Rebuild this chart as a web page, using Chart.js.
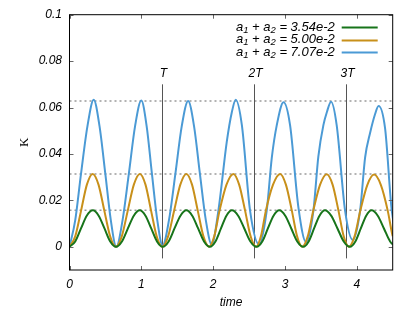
<!DOCTYPE html>
<html>
<head>
<meta charset="utf-8">
<script src="https://cdn.jsdelivr.net/npm/chart.js@4.4.0/dist/chart.umd.min.js"></script>
<style>
html, body { margin: 0; padding: 0; background: #fff; }
</style>
</head>
<body>
<canvas id="mycanvas" width="415" height="311"></canvas>
<script>
/* x ticks and y ticks */
var xTickValues = [0, 1, 2, 3, 4];
var xTickLabels = ['0', '1', '2', '3', '4'];
var yTickValues = [0, 0.02, 0.04, 0.06, 0.08, 0.1];
var yTickLabels = ['0', '0.02', '0.04', '0.06', '0.08', '0.1'];

/* series labels (a1 + a2 = ...) */
var seriesValues = ['3.54e-2', '5.00e-2', '7.07e-2'];
var seriesColors = ['#17741a', '#c8901a', '#4b9ad5'];

/* a1 + a2 = 3.54e-2 */
var time35 = [0, 0.08, 0.16, 0.24, 0.326, 0.406, 0.487, 0.567, 0.648,
  0.73, 0.813, 0.895, 0.978, 1.058, 1.138, 1.218, 1.298,
  1.38, 1.462, 1.545, 1.627, 1.709, 1.791, 1.873, 1.955,
  2.032, 2.109, 2.185, 2.262, 2.348, 2.434, 2.519, 2.605,
  2.684, 2.762, 2.841, 2.92, 3.004, 3.088, 3.171, 3.255,
  3.33, 3.405, 3.481, 3.556, 3.643, 3.731, 3.818, 3.905,
  3.98, 4.056, 4.131, 4.206, 4.292, 4.378, 4.464, 4.55];
var k35 = [0, 0.0023, 0.0079, 0.0134, 0.0157, 0.0134, 0.0079, 0.0023, 0,
  0.0023, 0.0079, 0.0134, 0.0157, 0.0134, 0.0079, 0.0023, 0,
  0.0023, 0.0079, 0.0134, 0.0157, 0.0134, 0.0079, 0.0023, 0,
  0.0023, 0.0079, 0.0134, 0.0157, 0.0134, 0.0079, 0.0023, 0,
  0.0023, 0.0079, 0.0134, 0.0157, 0.0134, 0.0079, 0.0023, 0,
  0.0023, 0.0079, 0.0134, 0.0157, 0.0134, 0.0079, 0.0023, 0,
  0.0023, 0.0079, 0.0134, 0.0157, 0.0134, 0.0079, 0.0023, 0];

/* a1 + a2 = 5.00e-2 */
var time50 = [0, 0.081, 0.162, 0.242, 0.323, 0.404, 0.484, 0.565, 0.645,
  0.729, 0.812, 0.896, 0.98, 1.058, 1.135, 1.213, 1.29,
  1.374, 1.458, 1.543, 1.627, 1.706, 1.785, 1.864, 1.943,
  2.016, 2.09, 2.186, 2.281, 2.362, 2.444, 2.521, 2.598,
  2.666, 2.735, 2.834, 2.932, 3.013, 3.095, 3.168, 3.24,
  3.318, 3.395, 3.489, 3.582, 3.663, 3.744, 3.817, 3.89,
  3.97, 4.05, 4.146, 4.241, 4.336, 4.43, 4.5, 4.57];
var k50 = [0, 0.0046, 0.0157, 0.0268, 0.0314, 0.0268, 0.0157, 0.0046, 0,
  0.0046, 0.0157, 0.0268, 0.0314, 0.0268, 0.0157, 0.0046, 0,
  0.0046, 0.0157, 0.0268, 0.0314, 0.0268, 0.0157, 0.0046, 0,
  0.0046, 0.0157, 0.0268, 0.0314, 0.0268, 0.0157, 0.0046, 0,
  0.0046, 0.0157, 0.0268, 0.0314, 0.0268, 0.0157, 0.0046, 0,
  0.0046, 0.0157, 0.0268, 0.0313, 0.0268, 0.0157, 0.0046, 0,
  0.0046, 0.0157, 0.0266, 0.0311, 0.0266, 0.0157, 0.0046, 0];

/* a1 + a2 = 7.07e-2 */
var time71 = [0, 0.08, 0.16, 0.25, 0.337, 0.418, 0.499, 0.575, 0.652,
  0.739, 0.826, 0.913, 1.0, 1.074, 1.148, 1.222, 1.296,
  1.385, 1.474, 1.563, 1.652, 1.734, 1.816, 1.898, 1.98,
  2.073, 2.19, 2.26, 2.315, 2.4, 2.514, 2.64,
  2.746, 2.816, 2.886, 2.98, 3.071, 3.187, 3.294,
  3.396, 3.465, 3.535, 3.585, 3.642, 3.72, 3.837, 3.944,
  4.046, 4.116, 4.185, 4.255, 4.303, 4.394, 4.487, 4.56];
var k71 = [0, 0.0115, 0.0314, 0.052, 0.0634, 0.052, 0.0314, 0.0115, 0,
  0.0115, 0.0314, 0.052, 0.063, 0.052, 0.0314, 0.0115, 0.0005,
  0.0115, 0.0314, 0.052, 0.0628, 0.052, 0.0314, 0.0115, 0.001,
  0.0156, 0.0453, 0.058, 0.0634, 0.0524, 0.0156, 0.001,
  0.0156, 0.0382, 0.0524, 0.0623, 0.0524, 0.017, 0.002,
  0.0156, 0.039, 0.0524, 0.0582, 0.0625, 0.0524, 0.0156, 0.003,
  0.0156, 0.0385, 0.049, 0.0572, 0.0607, 0.051, 0.0156, 0.005];

/* reference lines */
var levelLines = [0.0628, 0.0314, 0.0157];
var periodLines = [1.2825, 2.565, 3.8475];
var periodLabels = ['T', '2T', '3T'];
var periodTop = 0.07;
var periodBottom = -0.005;

var italicFont = 'italic 12px "Liberation Sans", Arial, sans-serif';
var legendFont = 'italic 13px "Liberation Sans", Arial, sans-serif';
var legendSubFont = 'italic 9.5px "Liberation Sans", Arial, sans-serif';

function toPoints(t, k) {
  var pts = [];
  for (var i = 0; i < t.length; i++) {
    pts.push({ x: t[i], y: k[i] });
  }
  return pts;
}

/* frame, inward ticks, period marks and legend */
var decorPlugin = {
  id: 'decor',
  beforeDatasetsDraw: function(chart) {
    var ctx = chart.ctx, a = chart.chartArea;
    var xs = chart.scales.x, ys = chart.scales.y;
    ctx.save();
    ctx.strokeStyle = '#9a9a9a';
    ctx.lineWidth = 1.5;
    ctx.setLineDash([2, 3]);
    levelLines.forEach(function(v) {
      var y = ys.getPixelForValue(v);
      ctx.beginPath();
      ctx.moveTo(a.left, y);
      ctx.lineTo(a.right, y);
      ctx.stroke();
    });
    ctx.setLineDash([]);
    ctx.strokeStyle = '#555';
    ctx.lineWidth = 1;
    ctx.fillStyle = '#000';
    ctx.font = italicFont;
    ctx.textAlign = 'center';
    ctx.textBaseline = 'alphabetic';
    periodLines.forEach(function(t, i) {
      var x = Math.round(xs.getPixelForValue(t)) + 0.5;
      var y0 = ys.getPixelForValue(periodTop);
      ctx.beginPath();
      ctx.moveTo(x, y0);
      ctx.lineTo(x, ys.getPixelForValue(periodBottom));
      ctx.stroke();
      ctx.fillText(periodLabels[i], x + 1, y0 - 7);
    });
    ctx.restore();
  },
  afterDraw: function(chart) {
    var ctx = chart.ctx, a = chart.chartArea;
    var xs = chart.scales.x, ys = chart.scales.y;
    ctx.save();
    /* inward ticks */
    ctx.strokeStyle = '#666';
    ctx.lineWidth = 1;
    ctx.beginPath();
    xTickValues.forEach(function(v) {
      var x = Math.round(xs.getPixelForValue(v)) + 0.5;
      ctx.moveTo(x, a.bottom); ctx.lineTo(x, a.bottom - 4);
      ctx.moveTo(x, a.top); ctx.lineTo(x, a.top + 4);
    });
    yTickValues.forEach(function(v) {
      var y = Math.round(ys.getPixelForValue(v)) + 0.5;
      ctx.moveTo(a.left, y); ctx.lineTo(a.left + 4, y);
      ctx.moveTo(a.right, y); ctx.lineTo(a.right - 4, y);
    });
    ctx.stroke();
    /* frame */
    ctx.strokeStyle = '#000';
    ctx.strokeRect(a.left, a.top, a.right - a.left, a.bottom - a.top);

    /* legend: text then line sample */
    var textRight = a.right - 58;
    var lineStart = a.right - 51;
    var lineEnd = a.right - 15;
    ctx.textBaseline = 'middle';
    ctx.textAlign = 'left';
    seriesValues.forEach(function(val, i) {
      var y = a.top + 12.5 + i * 12.5;
      var parts = [
        { s: 'a', sub: false }, { s: '1', sub: true },
        { s: ' + a', sub: false }, { s: '2', sub: true },
        { s: ' = ' + val, sub: false }
      ];
      var w = 0;
      parts.forEach(function(p) {
        ctx.font = p.sub ? legendSubFont : legendFont;
        p.w = ctx.measureText(p.s).width;
        w += p.w;
      });
      var x = textRight - w;
      ctx.fillStyle = '#000';
      parts.forEach(function(p) {
        ctx.font = p.sub ? legendSubFont : legendFont;
        ctx.fillText(p.s, x, p.sub ? y + 3 : y);
        x += p.w;
      });
      ctx.strokeStyle = seriesColors[i];
      ctx.lineWidth = 2;
      ctx.beginPath();
      ctx.moveTo(lineStart, Math.round(y) + 0.5);
      ctx.lineTo(lineEnd, Math.round(y) + 0.5);
      ctx.stroke();
    });
    ctx.restore();
  }
};

function lineSet(label, t, k, color) {
  return {
    label: label,
    data: toPoints(t, k),
    borderColor: color,
    backgroundColor: color,
    borderWidth: 2,
    pointRadius: 0,
    fill: false,
    cubicInterpolationMode: 'monotone'
  };
}

var ctx = document.getElementById('mycanvas');
var chart = new Chart(ctx, {
  type: 'line',
  data: {
    datasets: [
      lineSet('a1 + a2 = ' + seriesValues[0], time35, k35, seriesColors[0]),
      lineSet('a1 + a2 = ' + seriesValues[1], time50, k50, seriesColors[1]),
      lineSet('a1 + a2 = ' + seriesValues[2], time71, k71, seriesColors[2])
    ]
  },
  options: {
    responsive: false,
    devicePixelRatio: 1,
    animation: false,
    layout: { padding: { left: 0, right: 22.3, top: 11, bottom: 0 } },
    plugins: { legend: { display: false }, tooltip: { enabled: false } },
    scales: {
      x: {
        type: 'linear', min: 0, max: 4.5,
        afterBuildTicks: function(s) { s.ticks = xTickValues.map(function(v) { return { value: v }; }); },
        afterFit: function(s) { s.height = 41; },
        grid: { display: false, drawTicks: false },
        border: { display: false },
        ticks: {
          padding: 7, color: '#000',
          font: { family: '"Liberation Sans", Arial, sans-serif', size: 12, style: 'italic' },
          callback: function(v, i) { return xTickLabels[i]; }
        },
        title: {
          display: true, text: 'time', color: '#000',
          font: { family: '"Liberation Sans", Arial, sans-serif', size: 12, style: 'italic' },
          padding: { top: 0, bottom: 1 }
        }
      },
      y: {
        type: 'linear', min: -0.01, max: 0.1,
        afterBuildTicks: function(s) { s.ticks = yTickValues.map(function(v) { return { value: v }; }); },
        afterFit: function(s) { s.width = 69.5; },
        grid: { display: false, drawTicks: false },
        border: { display: false },
        ticks: {
          padding: 7.5, color: '#000',
          font: { family: '"Liberation Sans", Arial, sans-serif', size: 12, style: 'italic' },
          callback: function(v, i) { return yTickLabels[i]; }
        },
        title: {
          display: true, text: 'K', color: '#000',
          font: { family: '"Liberation Serif", serif', size: 13 },
          padding: { top: 17.2, bottom: 0 }
        }
      }
    }
  },
  plugins: [decorPlugin]
});
</script>
</body>
</html>
